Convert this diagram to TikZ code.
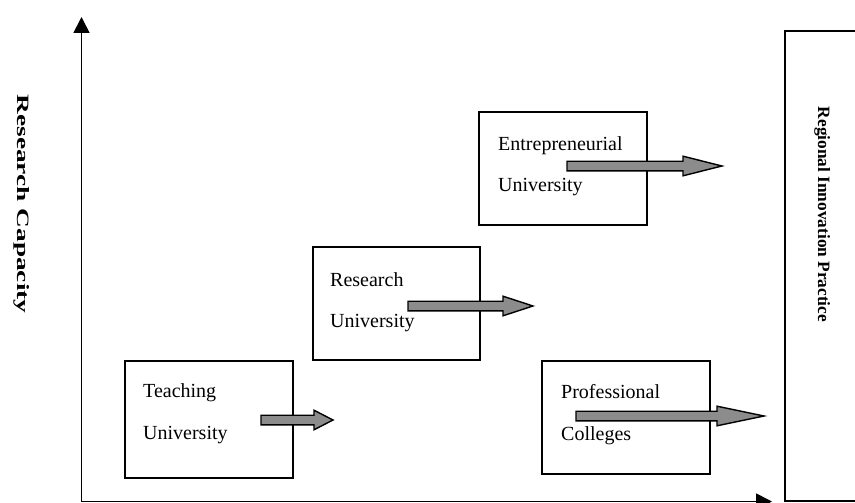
\documentclass[tikz,border=0pt]{standalone}
\usepackage{fontspec}
\setmainfont{Liberation Serif}
\usetikzlibrary{arrows.meta}
\definecolor{arrowgray}{RGB}{140,140,140}
\newcommand\blockarr[4]{%
  \draw[barrow] (#1,#4-4.8) -- (#2,#4-4.8) -- (#2,#4-9.8) -- (#3,#4)
    -- (#2,#4+9.8) -- (#2,#4+4.8) -- (#1,#4+4.8) -- cycle;}
\begin{document}
\begin{tikzpicture}[x=1pt,y=-1pt,
  box/.style={draw, line width=1.8pt, inner sep=0pt, outer sep=0pt, anchor=north west},
  lbl/.style={anchor=base west, inner sep=0pt, font=\fontsize{20}{24}\selectfont},
  rot/.style={anchor=base, rotate=-90, inner sep=0pt, font=\fontsize{17.3}{20}\selectfont\bfseries},
  axis/.style={line width=1.7pt, {Triangle[length=16pt,width=16pt]}-{Triangle[length=16pt,width=16pt]}},
  barrow/.style={draw, line width=1.4pt, fill=arrowgray, line join=miter}]
\useasboundingbox (0,0) rectangle (855,503);
% boxes
\node[box, minimum width=168pt, minimum height=117pt] (teach) at (125,361) {};
\node[box, minimum width=167pt, minimum height=113pt] (research) at (313,247) {};
\node[box, minimum width=168pt, minimum height=113pt] (entre) at (479,112) {};
\node[box, minimum width=168pt, minimum height=113pt] (prof) at (542,361) {};
% regional box (right side cut by the page edge)
\coordinate (rtr) at (862,31);
\coordinate (rtl) at (785,31);
\coordinate (rbl) at (785,501);
\coordinate (rbr) at (862,501);
\draw[line width=1.8pt] (rtr) -- (rtl) -- (rbl) -- (rbr);
% texts
\node[lbl] (teachA) at (143,397) {Teaching};
\node[lbl] (teachB) at (143,439) {University};
\node[lbl] (resA) at (330,286) {Research};
\node[lbl] (resB) at (330,327) {University};
\node[lbl] (entA) at (498,150) {Entrepreneurial};
\node[lbl] (entB) at (498,191) {University};
\node[lbl] (profA) at (561,398) {Professional};
\node[lbl] (profB) at (561,440) {Colleges};
% axes
\coordinate (ytip) at (81.5,17);
\coordinate (orig) at (81.5,501.5);
\coordinate (xtip) at (772,501.5);
\draw[axis] (ytip) -- (orig) -- (xtip);
\node[rot] (ylab) at (17,204) {\scalebox{1.58}[1]{Research Capacity}};
\node[rot] (rlab) at (818,214.5) {Regional Innovation Practice};
% block arrows
\blockarr{261}{314}{333}{420}
\blockarr{408}{503}{533}{306}
\blockarr{567}{683}{722}{166}
\blockarr{576}{717}{764}{416}
\end{tikzpicture}
\end{document}
